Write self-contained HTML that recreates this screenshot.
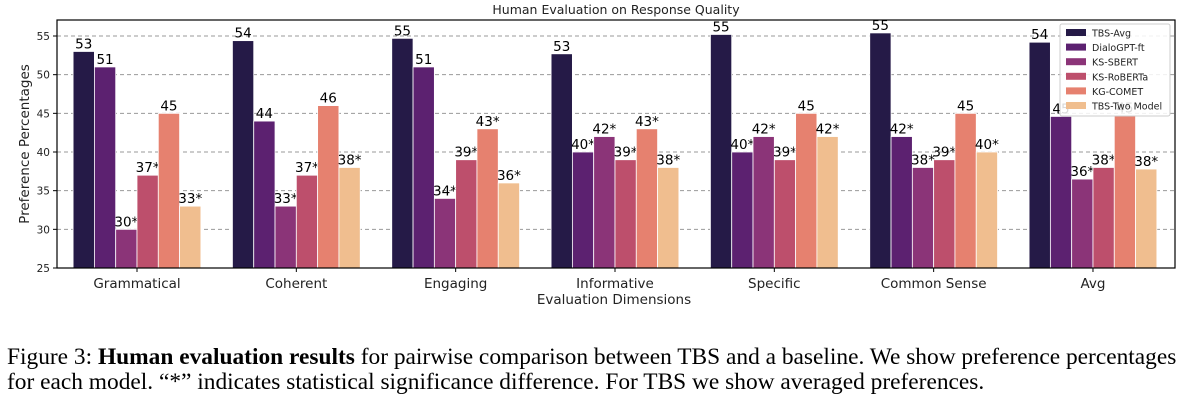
<!DOCTYPE html>
<html><head><meta charset="utf-8"><style>
body{margin:0;background:#fff;width:1193px;height:403px;overflow:hidden;position:relative;font-family:"Liberation Sans",sans-serif}
.cap{position:absolute;left:7px;font-family:"Liberation Serif",serif;font-size:23.4px;color:#000;white-space:nowrap}
</style></head><body>
<svg id="chart" width="1193" height="320" style="position:absolute;left:0;top:0" font-family="DejaVu Sans, sans-serif"></svg>
<div class="cap" style="top:344px">Figure 3: <b>Human evaluation results</b> for pairwise comparison between TBS and a baseline. We show preference percentages</div>
<div class="cap" style="top:369px">for each model. “*” indicates statistical significance difference. For TBS we show averaged preferences.</div>
<script>
const categories=["Grammatical","Coherent","Engaging","Informative","Specific","Common Sense","Avg"];
const seriesNames=["TBS-Avg","DialoGPT-ft","KS-SBERT","KS-RoBERTa","KG-COMET","TBS-Two Model"];
const tbsAvg=[53,54.4,54.7,52.7,55.2,55.4,54.2];
const dialoGPT=[51,44,51,40,40,42,44.6];
const ksSbert=[30,33,34,42,42,38,36.5];
const ksRoberta=[37,37,39,39,39,39,38];
const kgComet=[45,46,43,43,45,45,44.7];
const tbsTwo=[33,38,36,38,42,40,37.8];
const labels=[["53","51","30*","37*","45","33*"],["54","44","33*","37*","46","38*"],["55","51","34*","39*","43*","36*"],["53","40*","42*","39*","43*","38*"],["55","40*","42*","39*","45","42*"],["55","42*","38*","39*","45","40*"],["54","45","36*","38*","45","38*"]];
const yTicks=[25,30,35,40,45,50,55];
const colors=["#251a47","#5c2170","#8b3478","#bd4f6c","#e6816f","#f0be8f"];
const series=[tbsAvg,dialoGPT,ksSbert,ksRoberta,kgComet,tbsTwo];
const svg=document.getElementById('chart');const NS="http://www.w3.org/2000/svg";
const L=57,R=1175,T=20,B=268,yMin=25,yMax=57.07;
const y=v=>B-(v-yMin)/(yMax-yMin)*(B-T);
const gx=i=>137+i*159.33;const bw=21.3;
function mk(t,a,txt){const e=document.createElementNS(NS,t);for(const k in a)e.setAttribute(k,a[k]);if(txt!=null)e.textContent=txt;svg.appendChild(e);return e;}
yTicks.forEach(t=>{if(t>yMin){const g=mk('line',{x1:L,x2:R,y1:y(t),y2:y(t),stroke:'#999','stroke-dasharray':'4,3','stroke-width':1});

}
mk('line',{x1:L-4,x2:L,y1:y(t),y2:y(t),stroke:'#000'});
const tl=mk('text',{x:L-7,y:y(t)+4,'text-anchor':'end','font-size':10.5,fill:'#222'},t);

});
categories.forEach((c,i)=>{series.forEach((s,j)=>{const x=gx(i)-3*bw+j*bw;
const r=mk('rect',{x:x,y:y(s[i]),width:bw,height:B-y(s[i]),fill:colors[j],stroke:'#fff','stroke-width':0.8});


const lb=mk('text',{x:x+bw/2,y:y(s[i])-3,'text-anchor':'middle','font-size':13.5,fill:'#000'},labels[i][j]);

});
mk('line',{x1:gx(i),x2:gx(i),y1:B,y2:B+4,stroke:'#000'});
const cl=mk('text',{x:gx(i),y:B+20,'text-anchor':'middle','font-size':13.5,fill:'#222'},c);

});
const ax=mk('rect',{x:L,y:T,width:R-L,height:B-T,fill:'none',stroke:'#000','stroke-width':1.2});


const tt=mk('text',{x:(L+R)/2,y:14,'text-anchor':'middle','font-size':12.5,fill:'#222'},'Human Evaluation on Response Quality');


const xt=mk('text',{x:614,y:304,'text-anchor':'middle','font-size':13.5,fill:'#222'},'Evaluation Dimensions');


const yt=mk('text',{x:0,y:0,'text-anchor':'middle','font-size':13.5,fill:'#222',transform:'translate(29,144) rotate(-90)'},'Preference Percentages');


const lg=mk('rect',{x:1060,y:24,width:110,height:92,fill:'#fff','fill-opacity':0.85,stroke:'#ccc',rx:2});


seriesNames.forEach((n,j)=>{const ly=33+j*14.6;
mk('rect',{x:1066,y:ly-4,width:20,height:7,fill:colors[j]});
const le=mk('text',{x:1092,y:ly+3.5,'font-size':9.5,fill:'#222'},n);

});
</script>
</body></html>
